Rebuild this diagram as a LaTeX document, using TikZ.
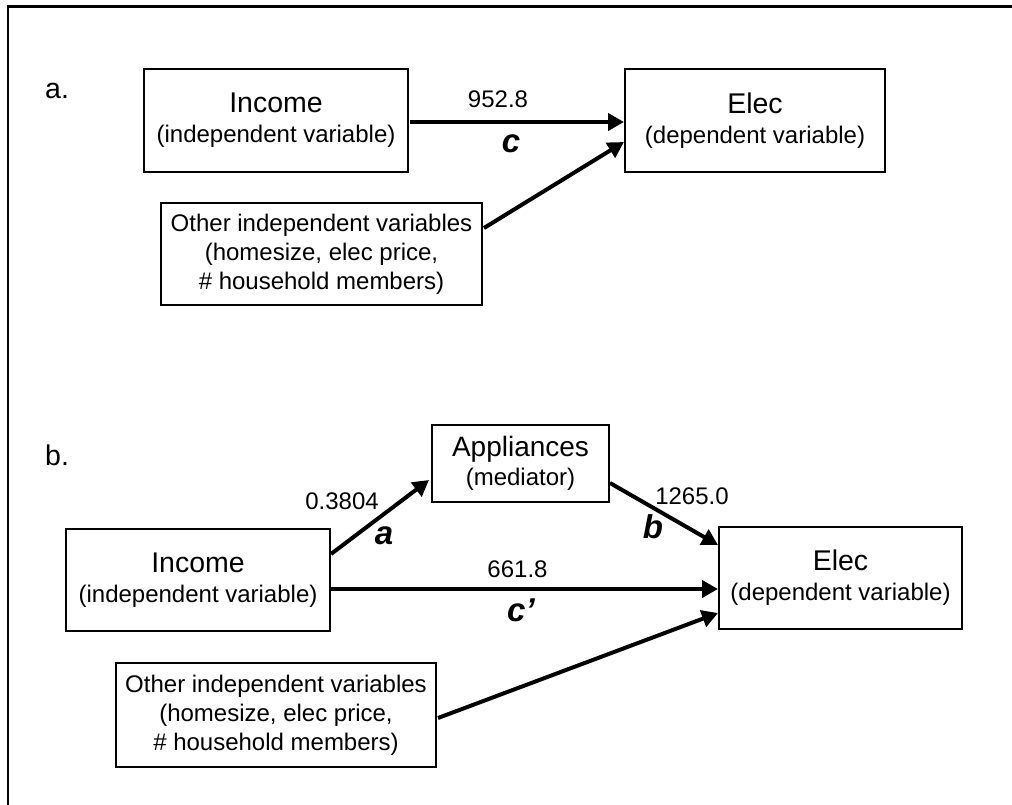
\documentclass[tikz,border=0pt]{standalone}
\usepackage{fontspec}
\setmainfont{Liberation Sans}
\usetikzlibrary{arrows.meta,calc}
\begin{document}
\begin{tikzpicture}[x=1pt,y=-1pt,
 box/.style={draw, line width=2pt, inner sep=0pt, align=center, font=\fontsize{24}{30}\selectfont},
 obox/.style={box, font=\fontsize{24}{29}\selectfont},
 conn/.style={line width=4pt, -{Triangle[length=16pt,width=17pt]}},
 num/.style={anchor=base, font=\fontsize{24}{28}\selectfont, inner sep=0pt},
 lett/.style={anchor=base, font=\fontsize{33}{36}\selectfont\bfseries\itshape, inner sep=0pt},
 panel/.style={anchor=base west, font=\fontsize{28.5}{32}\selectfont, inner sep=0pt},
 ttl/.style={font=\fontsize{28.5}{30}\selectfont}]
\useasboundingbox (0,0) rectangle (1012,804);
\draw[line width=2.5pt] (8,810) -- (8,6.5) -- (1020,6.5);
% panel a
\node[panel] (pa) at (45,98) {a.};
\node[box, minimum width=264pt, minimum height=103pt] (inca) at (276,120.5) {{\fontsize{28.5}{30}\selectfont Income}\\(independent variable)};
\node[box, minimum width=260pt, minimum height=103pt] (eleca) at (755,120.5) {{\fontsize{28.5}{30}\selectfont Elec}\\(dependent variable)};
\node[obox, minimum width=321pt, minimum height=102pt] (otha) at (321.5,254) {Other independent variables\\(homesize, elec price,\\\# household members)};
\draw[conn] ($(inca.east)+(1,1.5)$) -- ($(eleca.west)+(0,1.5)$);
\draw[conn] ($(otha.east)+(1,-26)$) -- ($(eleca.west)+(0,21.5)$);
\node[num] (na) at (498,107) {952.8};
\node[lett] (lc) at (511,152) {c};
% panel b
\node[panel] (pb) at (45,465) {b.};
\node[box, font=\fontsize{24}{28.5}\selectfont, minimum width=177pt, minimum height=77pt] (app) at (520.5,463.5) {{\fontsize{28}{28.5}\selectfont Appliances}\\(mediator)};
\node[box, minimum width=264pt, minimum height=102pt] (incb) at (198,580) {{\fontsize{28.5}{30}\selectfont Income}\\(independent variable)};
\node[box, minimum width=243pt, minimum height=102pt] (elecb) at (840.5,578) {{\fontsize{28.5}{30}\selectfont Elec}\\(dependent variable)};
\node[obox, minimum width=320pt, minimum height=104pt] (othb) at (276,715) {Other independent variables\\(homesize, elec price,\\\# household members)};
\draw[conn] ($(incb.east)+(0,-26)$) -- ($(app.west)+(-2,16.5)$);
\draw[conn] ($(app.east)+(0,19.5)$) -- ($(elecb.west)+(0,-33)$);
\draw[conn] ($(incb.east)+(0,9)$) -- ($(elecb.west)+(0,11)$);
\draw[conn] ($(othb.east)+(1,3)$) -- ($(elecb.west)+(0,35)$);
\node[num] (n1) at (342,509) {0.3804};
\node[lett] (l1) at (384,544) {a};
\node[num] (n2) at (692,504) {1265.0};
\node[lett] (l2) at (653,538) {b};
\node[num] (n3) at (517.5,577) {661.8};
\node[lett] (l3) at (521,621) {c’};
\end{tikzpicture}
\end{document}
